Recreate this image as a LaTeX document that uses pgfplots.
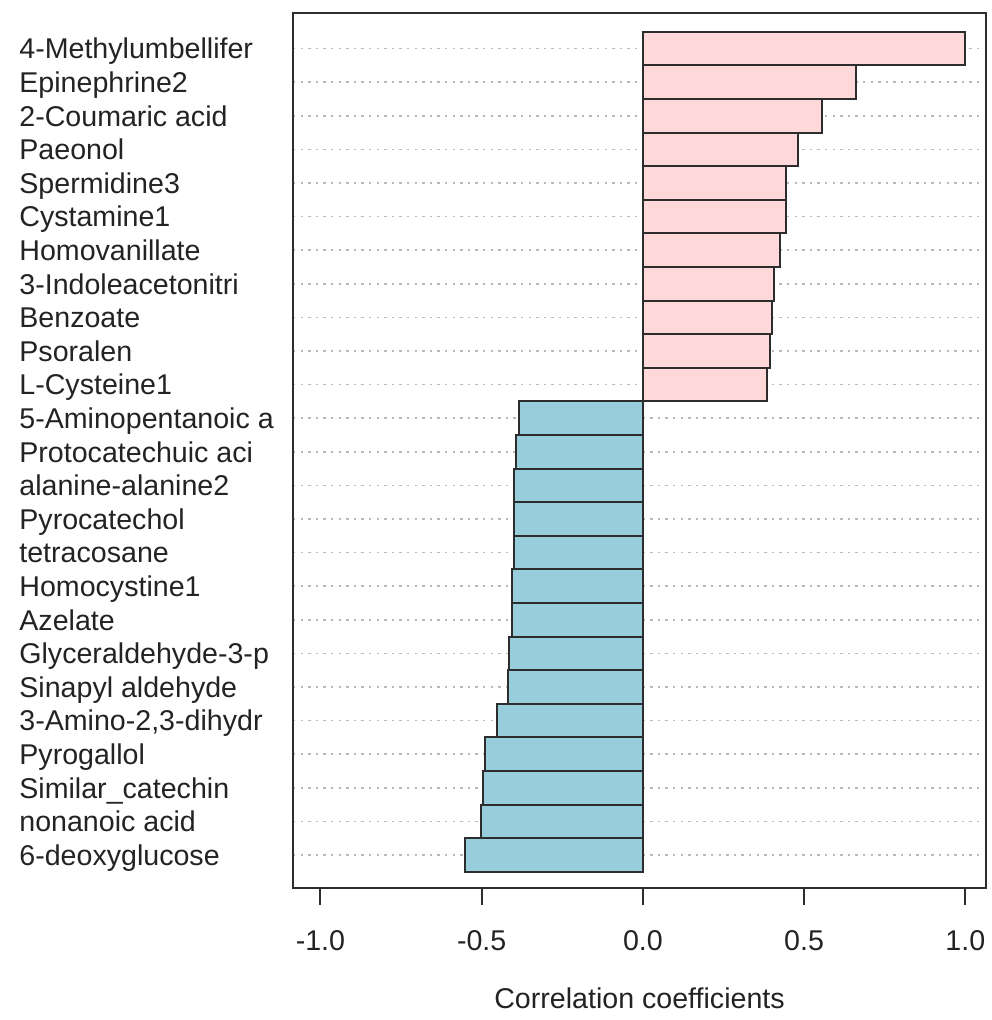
\documentclass[border=0pt]{standalone}
\usepackage{pgfplots}
\pgfplotsset{compat=1.18}
\usepackage{pgfplotstable}
\usepackage{fontspec}
\setmainfont{Liberation Sans}
\definecolor{posfill}{RGB}{255,217,217}
\definecolor{negfill}{RGB}{152,206,220}
\definecolor{edge}{RGB}{45,45,45}
\definecolor{txt}{RGB}{35,35,35}

% positive correlations, top of the chart
\pgfplotstableread{
y v
24 1.000
23 0.660
22 0.554
21 0.482
20 0.443
19 0.443
18 0.425
17 0.407
16 0.401
15 0.394
14 0.386
}\posdata

% negative correlations
\pgfplotstableread{
y v
13 -0.384
12 -0.394
11 -0.400
10 -0.400
9 -0.400
8 -0.407
7 -0.407
6 -0.415
5 -0.418
4 -0.452
3 -0.490
2 -0.497
1 -0.503
0 -0.552
}\negdata

\begin{document}
\begin{tikzpicture}
\path[use as bounding box] (-146.5pt,-66pt) rectangle (349pt,444pt);
\begin{axis}[
  scale only axis,
  width=346.5pt, height=437.5pt,
  xmin=-1.085, xmax=1.064,
  ymin=-0.98, ymax=25.06,
  xbar, bar width=1, bar shift=0pt,
  axis line style={edge, line width=1pt},
  xtick={-1,-0.5,0,0.5,1},
  xticklabels={-1.0,-0.5,0.0,0.5,1.0},
  xtick pos=lower,
  tick align=outside,
  major tick length=8.5pt,
  xtick style={edge, line width=1pt},
  xticklabel style={yshift=-9pt},
  ytick={0,...,24},
  yticklabels={6-deoxyglucose, nonanoic acid, Similar\_catechin, Pyrogallol,
    {3-Amino-2,3-dihydr}, Sinapyl aldehyde, Glyceraldehyde-3-p, Azelate,
    Homocystine1, tetracosane, Pyrocatechol, alanine-alanine2,
    Protocatechuic aci, 5-Aminopentanoic a, L-Cysteine1, Psoralen,
    Benzoate, 3-Indoleacetonitri, Homovanillate, Cystamine1, Spermidine3,
    Paeonol, 2-Coumaric acid, Epinephrine2, 4-Methylumbellifer},
  ytick style={draw=none},
  yticklabel style={anchor=base west, inner sep=0pt, xshift=-128.5pt, yshift=-5.1pt},
  ticklabel style={font=\fontsize{14.3}{16}\selectfont, text=txt},
  ymajorgrids,
  grid style={gray!55, line width=0.8pt, dash pattern=on 1.2pt off 2.6pt},
  xlabel={Correlation coefficients},
  xlabel style={font=\fontsize{14.3}{16}\selectfont, text=txt, yshift=-12pt},
]
\addplot[fill=posfill, draw=edge, line width=1pt] table[x=v, y=y] {\posdata};
\addplot[fill=negfill, draw=edge, line width=1pt] table[x=v, y=y] {\negdata};
\end{axis}
\end{tikzpicture}
\end{document}
